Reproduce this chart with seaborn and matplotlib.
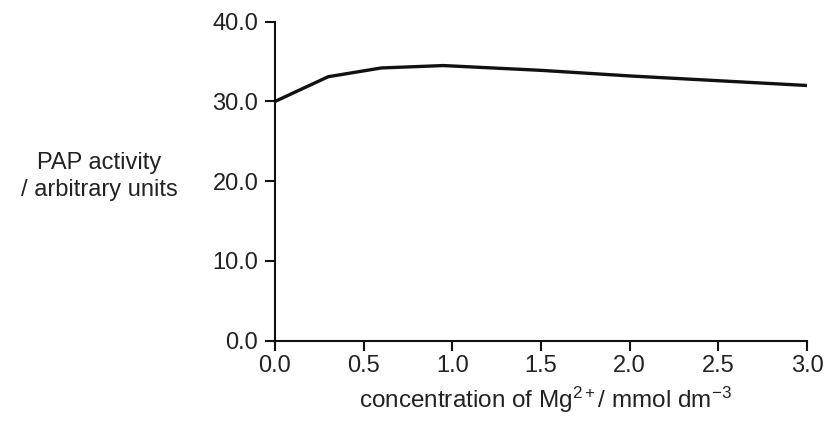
import matplotlib
matplotlib.use("Agg")
import matplotlib.pyplot as plt
import seaborn as sns
import pandas as pd

mg_conc = [0.0, 0.3, 0.6, 0.95, 1.5, 2.0, 2.5, 3.0]
pap_activity = [30.0, 33.1, 34.2, 34.5, 33.9, 33.2, 32.6, 32.0]
x_ticks = [0.0, 0.5, 1.0, 1.5, 2.0, 2.5, 3.0]
y_ticks = [0.0, 10.0, 20.0, 30.0, 40.0]

sns.set_theme(style="ticks")
plt.rcParams['font.family'] = ['Liberation Sans', 'DejaVu Sans']
plt.rcParams['mathtext.fontset'] = 'custom'
plt.rcParams['mathtext.rm'] = 'Liberation Sans'
plt.rcParams['mathtext.it'] = 'Liberation Sans:italic'
plt.rcParams['mathtext.bf'] = 'Liberation Sans:bold'

df = pd.DataFrame({"conc": mg_conc, "activity": pap_activity})

fig = plt.figure(figsize=(8.27, 4.23), dpi=100)
ax = fig.add_axes([0.3325, 0.1946, 0.6433, 0.7541])
sns.lineplot(data=df, x="conc", y="activity", ax=ax, color="#111111", linewidth=2.4)

ax.set_xlim(0, 3.0)
ax.set_ylim(0, 40)
ax.set_xticks(x_ticks)
ax.set_xticklabels([f"{v:.1f}" for v in x_ticks])
ax.set_yticks(y_ticks)
ax.set_yticklabels([f"{v:.1f}" for v in y_ticks])
sns.despine(ax=ax)
for s in ["left", "bottom"]:
    ax.spines[s].set_linewidth(1.5)
    ax.spines[s].set_color("#111111")
ax.tick_params(axis="both", direction="out", length=7, width=1.5, colors="#111111",
               labelsize=17, labelcolor="#222222")
ax.tick_params(axis="x", pad=3)
ax.tick_params(axis="y", pad=5)

ax.set_xlabel("")
ax.set_ylabel("")
fig.text(0.660, 0.0355, r"concentration of Mg$^{2+}$/ mmol dm$^{-3}$",
         ha="center", va="baseline", fontsize=17.5, color="#222222")
fig.text(0.12, 0.583, "PAP activity\n/ arbitrary units", ha="center", va="center",
         fontsize=17, color="#222222", linespacing=1.3)

fig.savefig("out.png", dpi=100)
